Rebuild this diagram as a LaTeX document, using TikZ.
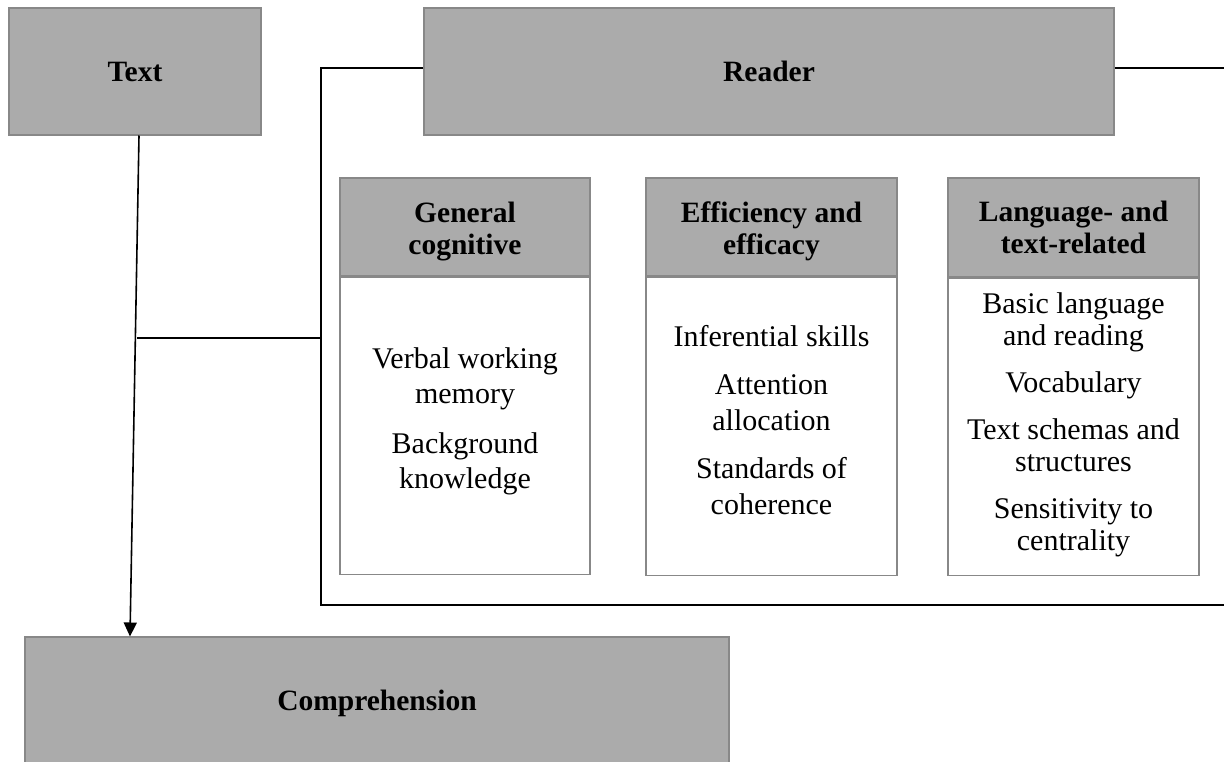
\documentclass[tikz,border=0pt]{standalone}
\usepackage{fontspec}
\setmainfont{Liberation Serif}
\usetikzlibrary{arrows.meta}
\definecolor{boxgray}{RGB}{171,171,171}
\definecolor{edgegray}{RGB}{136,136,136}
\tikzset{
  graybox/.style={draw=edgegray, fill=boxgray, line width=1.5pt, inner sep=0pt,
    align=center, font=\fontsize{29.5}{32}\selectfont\bfseries},
  whitebox/.style={draw=edgegray, fill=white, line width=1.5pt, inner sep=0pt},
  hdrtext/.style={inner sep=0pt, align=center, font=\fontsize{29.5}{32}\selectfont\bfseries},
  bodytext/.style={inner sep=0pt, align=center, font=\fontsize{30}{#1}\selectfont},
  conn/.style={draw=black, line width=1.6pt},
}
\begin{document}
\begin{tikzpicture}[x=1pt, y=-1pt]
\useasboundingbox (0,0) rectangle (1224,761);
% main boxes
\node[graybox, minimum width=252, minimum height=127] (text) at (135,71.5) {Text};
\node[graybox, minimum width=690, minimum height=127] (reader) at (769,71.5) {Reader};
\node[graybox, minimum width=704, minimum height=133] (comp) at (377,703.5) {Comprehension};
% sub boxes: headers
\node[graybox, minimum width=250, minimum height=98] (h1) at (465,227) {};
\node[graybox, minimum width=251, minimum height=98] (h2) at (771.5,227) {};
\node[graybox, minimum width=251, minimum height=99] (h3) at (1073.5,227.5) {};
% sub boxes: bodies
\node[whitebox, minimum width=250, minimum height=297, anchor=north] (b1) at (h1.south) {};
\node[whitebox, minimum width=251, minimum height=298, anchor=north] (b2) at (h2.south) {};
\node[whitebox, minimum width=251, minimum height=297, anchor=north] (b3) at (h3.south) {};
% header texts
\node[hdrtext] (h1t) at ([yshift=-5pt]h1.center) {\strut General\\cognitive\strut};
\node[hdrtext] (h2t) at ([yshift=-5pt]h2.center) {\strut Efficiency and\\efficacy\strut};
\node[hdrtext] (h3t) at ([yshift=-4pt]h3.center) {\strut Language- and\\text-related\strut};
% body texts
\node[bodytext=35] (b1t) at ([yshift=5pt]b1.center)
  {\strut Verbal working\\memory\\[15pt]Background\\knowledge\strut};
\node[bodytext=36] (b2t) at ([yshift=3.5pt]b2.center)
  {\strut Inferential skills\\[12pt]Attention\\allocation\\[12pt]Standards of\\coherence\strut};
\node[bodytext=32] (b3t) at ([yshift=1pt]b3.center)
  {\strut Basic language\\and reading\\[15pt]Vocabulary\\[15pt]Text schemas and\\structures\\[15pt]Sensitivity to\\centrality\strut};
% bracket around reader factors
\coordinate (tl) at (321,68);
\coordinate (bl) at (321,605);
\coordinate (br) at (1224,605);
\coordinate (tr) at (1224,68);
\coordinate (join) at (137,338);
\coordinate (tstart) at (139,135.5);
\coordinate (aend) at (130,636.5);
\draw[conn] (reader.west |- tl) -- (tl) -- (bl) -- (br);
\draw[conn] (reader.east |- tr) -- (tr);
\draw[conn] (join) -- (join -| tl);
\draw[conn, -{Triangle[length=14pt, width=13pt]}] (tstart) -- (aend);
\end{tikzpicture}
\end{document}
